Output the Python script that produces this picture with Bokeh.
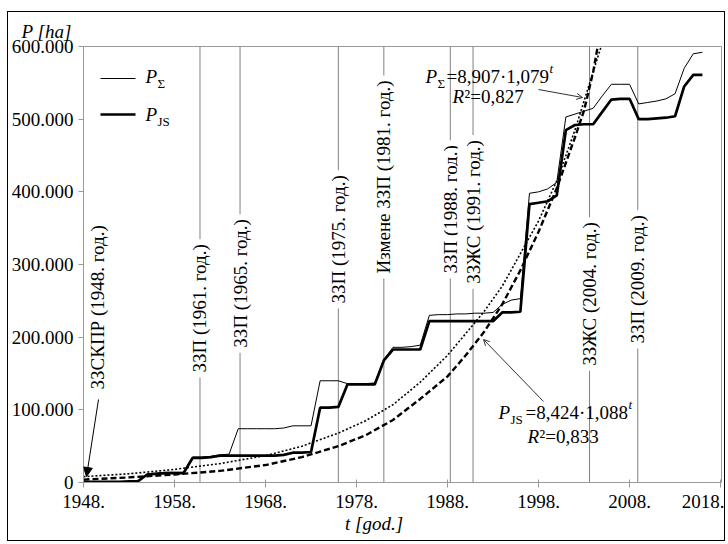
import math
from bokeh.plotting import figure
from bokeh.models import (FixedTicker, Span, Label, Arrow, NormalHead, OpenHead)
from bokeh.core.properties import value
from bokeh.embed import file_html
from bokeh.resources import INLINE

# ---------------- data ----------------
years = list(range(1948, 2017))
p_sigma = [1000, 1000, 1000, 1000, 1000, 1500, 2000, 12000, 13000, 14000,
           14000, 14000, 35000, 35000, 36000, 38000, 39000, 74000, 74000, 74000,
           74000, 74000, 75000, 78000, 78000, 78000, 140000, 140000, 140000, 136000,
           136000, 136000, 137000, 169000, 186000, 186000, 187000, 189000, 230000, 231000,
           231000, 232000, 232000, 233000, 233000, 234000, 245000, 251000, 253000, 398000,
           400000, 404000, 413000, 503000, 507000, 511000, 515000, 532000, 548000, 548000,
           548000, 521000, 523000, 525000, 528000, 535000, 570000, 590000, 592000]
p_js = [1000, 1000, 1000, 1000, 1000, 1500, 2000, 11000, 12000, 13000,
        13000, 13000, 34000, 34000, 35000, 37000, 37000, 37000, 37000, 37000,
        37000, 37000, 38000, 41000, 41000, 42000, 103000, 103000, 104000, 135000,
        135000, 135000, 135000, 168000, 183000, 183000, 183000, 183000, 222000, 222000,
        222000, 222000, 222000, 222000, 222000, 222000, 234000, 234000, 235000, 383000,
        385000, 387000, 395000, 485000, 492000, 493000, 493000, 510000, 527000, 528000,
        528000, 500000, 500000, 501000, 502000, 504000, 545000, 561000, 561000]

# trend curves
trend_sigma_years = [1948, 1953, 1958, 1963, 1968, 1972, 1976, 1979, 1982, 1985,
                     1988, 1990, 1992, 1994, 1996, 1998, 2000, 2002, 2004, 2005]
trend_sigma = [8000, 12000, 18000, 26000, 37000, 50000, 68000, 85000, 107000, 138000,
               175000, 205000, 235000, 270000, 315000, 360000, 415000, 485000, 565000, 605000]
trend_js_years = [1948, 1953, 1958, 1963, 1968, 1972, 1976, 1979, 1982, 1985,
                  1988, 1990, 1992, 1994, 1996, 1998, 2000, 2001, 2002, 2003, 2004, 2004.5]
trend_js = [4000, 7000, 11000, 16000, 24000, 35000, 50000, 65000, 86000, 115000,
            146000, 175000, 207000, 245000, 292000, 345000, 405000, 440000, 475000, 512000,
            565000, 600000]

x_ticks = [1948, 1958, 1968, 1978, 1988, 1998, 2008, 2018]
x_tick_labels = ["1948.", "1958.", "1968.", "1978.", "1988.", "1998.", "2008.", "2018."]
y_ticks = [0, 100000, 200000, 300000, 400000, 500000, 600000]
y_tick_labels = ["0", "100.000", "200.000", "300.000", "400.000", "500.000", "600.000"]

event_pos = [1960.8, 1965.2, 1976.0, 1981.0, 1988.3, 1990.8, 2003.6, 2008.9]
event_labels = ["ЗЗП (1961. год.)", "ЗЗП (1965. год.)", "ЗЗП (1975. год.)",
                "Измене ЗЗП (1981. год.)", "ЗЗП (1988. год.)", "ЗЗЖС (1991. год.)",
                "ЗЗЖС (2004. год.)", "ЗЗП (2009. год.)"]
event_label_base = [144400, 178700, 239400, 280700, 280700, 266700, 153700, 184300]

first_label = "ЗЗСКПР (1948. год.)"
first_label_pos = (1949.5, 128000)

series_names = [("P", "Σ"), ("P", "JS")]
x_title = "t [god.]"
y_title = "P [ha]"

# ---------------- figure ----------------
FONT = "Liberation Serif"
GRAY = "#9a9a9a"
EM = "\u2003"

p = figure(width=718, height=530, x_range=(1948, 2018.1), y_range=(0, 600000),
           output_backend="svg", toolbar_location=None,
           min_border_left=74, min_border_right=5, min_border_top=34, min_border_bottom=60,
           background_fill_color="white", border_fill_color="white")
p.styles = {"border": "1px solid black", "margin-left": "7px", "margin-top": "11px"}
p.grid.visible = False
p.outline_line_color = GRAY
p.outline_line_width = 1

# y title placed as a plot title at the top-left corner
p.title.text = y_title
p.title.text_font = FONT
p.title.text_font_size = "19px"
p.title.text_font_style = "italic"
p.title.text_color = "black"
p.title.align = "left"
p.title.offset = -62
p.title.standoff = 10

for ax in (p.xaxis[0], p.yaxis[0]):
    ax.axis_line_color = GRAY
    ax.major_tick_line_color = GRAY
    ax.minor_tick_line_color = None
    ax.major_label_text_font = FONT
    ax.major_label_text_font_size = "19px"
    ax.major_label_text_color = "black"

p.xaxis.ticker = FixedTicker(ticks=x_ticks)
p.xaxis.major_label_overrides = dict(zip(x_ticks, x_tick_labels))
p.xaxis.major_tick_in = 3
p.xaxis.major_tick_out = 5
p.xaxis.major_label_standoff = 7
p.xaxis.axis_label = x_title + EM * 3   # trailing space shifts the title left, as in the original
p.xaxis.axis_label_text_font = FONT
p.xaxis.axis_label_text_font_size = "19px"
p.xaxis.axis_label_text_font_style = "italic"
p.xaxis.axis_label_text_color = "black"
p.xaxis.axis_label_standoff = 2

p.yaxis.ticker = FixedTicker(ticks=y_ticks)
p.yaxis.major_label_overrides = dict(zip(y_ticks, y_tick_labels))
p.yaxis.major_tick_in = 0
p.yaxis.major_tick_out = 5
p.yaxis.major_label_standoff = 5

# event lines
for xv in event_pos:
    p.add_layout(Span(location=xv, dimension="height", line_color="#808080",
                      line_width=1, level="underlay"))

# series
r_sig = p.line(years, p_sigma, line_color="black", line_width=1)
r_js = p.line(years, p_js, line_color="black", line_width=2.7)
p.line(trend_sigma_years, trend_sigma, line_color="black", line_width=1.6, line_dash="2 2")
p.line(trend_js_years, trend_js, line_color="black", line_width=2.4, line_dash="6 3")

# event labels (white background leaves gaps in the lines)
p.text(x=event_pos, y=event_label_base, text=event_labels, angle=math.pi / 2,
       text_align="left", text_baseline="middle", text_font=value(FONT),
       text_font_size="19px", text_color="black",
       background_fill_color="white", padding=5)
p.text(x=[first_label_pos[0]], y=[first_label_pos[1]], text=[first_label],
       angle=math.pi / 2, text_align="left", text_baseline="middle",
       text_font=value(FONT), text_font_size="19px", text_color="black")

FL, FB = 83, 483  # frame left / bottom on the page


def put(txt, px, py, size=19, style="normal", align="left"):
    p.add_layout(Label(x=px - FL, y=FB - py, x_units="screen", y_units="screen",
                       text=txt, text_font=FONT, text_font_size=f"{size}px",
                       text_font_style=style, text_align=align,
                       text_baseline="middle", text_color="black"))


def seg(x0, y0, x1, y1, width=1.0, color="black", head=None):
    p.add_layout(Arrow(x_start=x0 - FL, y_start=FB - y0, x_end=x1 - FL, y_end=FB - y1,
                       start_units="screen", end_units="screen", line_color=color,
                       line_width=width, end=head))


# legend (drawn by hand so that the subscripts sit right)
seg(100, 79, 135, 79, 1.0)
seg(100, 115, 135, 115, 2.7)
put(series_names[0][0], 145, 77, 19, "italic")
put(series_names[0][1], 157, 84, 13)
put(series_names[1][0], 145, 115, 19, "italic")
put(series_names[1][1], 157, 122, 13)

# equations
put("P", 425, 77, 19, "italic")
put("Σ", 437, 84, 13)
put("=8,907·1,079", 446, 77)
put("t", 549, 69, 13, "italic")
put("R", 452, 97, 19, "italic")
put("²=0,827", 464, 97)

put("P", 498, 413, 19, "italic")
put("JS", 510, 420, 13)
put("=8,424·1,088", 525, 413)
put("t", 628, 405, 13, "italic")
put("R", 527, 437, 19, "italic")
put("²=0,833", 539, 437)

# arrows
seg(98, 400, 86, 477, 1.0, "black", NormalHead(size=9, fill_color="black", line_color="black"))
seg(538, 90, 582, 98, 1.0, "#333333", OpenHead(size=6, line_color="#333333", line_width=1))
seg(543, 402, 483, 340, 1.0, "#333333", OpenHead(size=6, line_color="#333333", line_width=1))

open("out.html", "w").write(file_html(p, INLINE))
